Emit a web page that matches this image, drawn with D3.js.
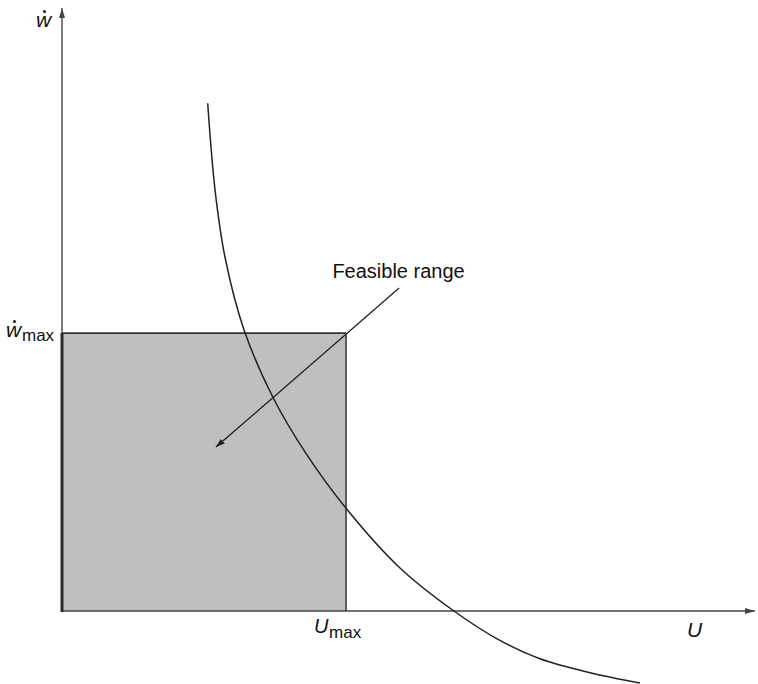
<!DOCTYPE html>
<html>
<head>
<meta charset="utf-8">
<script src="https://cdn.jsdelivr.net/npm/d3@7"></script>
<style>
  html, body { margin: 0; padding: 0; background: #fff; }
  svg { display: block; }
  text { font-family: "Liberation Sans", Arial, Helvetica, sans-serif; fill: #111; }
</style>
</head>
<body>
<svg id="chart" width="758" height="684"></svg>
<script>
// Axis extents (in units of U_max and ẇ_max)
const axisMaxU = 2.44;
const axisMaxW = 2.17;

// Feasible box limits
const limitU = [1.0];   // U_max
const limitW = [1.0];   // ẇ_max

// Constraint curve samples (U, ẇ)
const curveU = [0.513, 0.539, 0.574, 0.641, 0.742, 0.856, 1.0, 1.19, 1.38, 1.532, 1.683, 1.859, 2.035];
const curveW = [1.827, 1.514, 1.273, 1.011, 0.770, 0.572, 0.370, 0.155, 0.0, -0.100, -0.172, -0.222, -0.259];

// Annotation arrow: text anchor point -> pointed location
const noteText = ["Feasible range"];
const noteFromU = [1.187], noteFromW = [1.162];
const noteToU = [0.542], noteToW = [0.590];
const noteLabelU = [1.185], noteLabelW = [1.198];

const svg = d3.select("#chart");

const x = d3.scaleLinear().domain([0, axisMaxU]).range([62, 755]);
const y = d3.scaleLinear().domain([0, axisMaxW]).range([611, 8]);

// Arrowhead markers
const defs = svg.append("defs");
defs.append("marker")
  .attr("id", "axisHead")
  .attr("viewBox", "0 0 10 6")
  .attr("refX", 10).attr("refY", 3)
  .attr("markerWidth", 10).attr("markerHeight", 6)
  .attr("markerUnits", "userSpaceOnUse")
  .attr("orient", "auto")
  .append("path").attr("d", "M0,0 L10,3 L0,6 Z").attr("fill", "#444");
defs.append("marker")
  .attr("id", "noteHead")
  .attr("viewBox", "0 0 9 6")
  .attr("refX", 9).attr("refY", 3)
  .attr("markerWidth", 9).attr("markerHeight", 6)
  .attr("markerUnits", "userSpaceOnUse")
  .attr("orient", "auto")
  .append("path").attr("d", "M0,0 L9,3 L0,6 Z").attr("fill", "#222");

// Feasible region
const box = svg.append("g");
box.append("rect")
  .attr("x", x(0)).attr("y", y(limitW[0]))
  .attr("width", x(limitU[0]) - x(0))
  .attr("height", y(0) - y(limitW[0]))
  .attr("fill", "#bfbfbf");
box.append("line")
  .attr("x1", x(0)).attr("x2", x(limitU[0]))
  .attr("y1", y(limitW[0])).attr("y2", y(limitW[0]))
  .attr("stroke", "#333").attr("stroke-width", 1.6);
box.append("line")
  .attr("x1", x(limitU[0])).attr("x2", x(limitU[0]))
  .attr("y1", y(limitW[0])).attr("y2", y(0))
  .attr("stroke", "#5a5a5a").attr("stroke-width", 2);

// Axes
svg.append("line")
  .attr("x1", x(0)).attr("y1", y(0))
  .attr("x2", x(axisMaxU)).attr("y2", y(0))
  .attr("stroke", "#444").attr("stroke-width", 1.6)
  .attr("marker-end", "url(#axisHead)");
svg.append("line")
  .attr("x1", x(0)).attr("y1", y(0))
  .attr("x2", x(0)).attr("y2", y(axisMaxW))
  .attr("stroke", "#444").attr("stroke-width", 1.4)
  .attr("marker-end", "url(#axisHead)");
// heavier left edge of the box along the ẇ axis
svg.append("line")
  .attr("x1", x(0)).attr("y1", y(0) + 1)
  .attr("x2", x(0)).attr("y2", y(limitW[0]))
  .attr("stroke", "#2a2a2a").attr("stroke-width", 3);

// Constraint curve
const pts = curveU.map((u, i) => [u, curveW[i]]);
svg.append("path")
  .datum(pts)
  .attr("fill", "none")
  .attr("stroke", "#222")
  .attr("stroke-width", 1.5)
  .attr("d", d3.line().x(d => x(d[0])).y(d => y(d[1])).curve(d3.curveCatmullRom.alpha(0.5)));

// Annotation
svg.append("line")
  .attr("x1", x(noteFromU[0])).attr("y1", y(noteFromW[0]))
  .attr("x2", x(noteToU[0])).attr("y2", y(noteToW[0]))
  .attr("stroke", "#222").attr("stroke-width", 1.3)
  .attr("marker-end", "url(#noteHead)");
svg.append("text")
  .attr("x", x(noteLabelU[0])).attr("y", y(noteLabelW[0]))
  .attr("text-anchor", "middle")
  .attr("font-size", 20)
  .text(noteText[0]);

// Axis labels
function dotW(g, px, py, size) {
  g.append("text")
    .attr("x", px).attr("y", py)
    .attr("font-size", size).attr("font-style", "italic")
    .text("w");
  g.append("circle")
    .attr("cx", px + 8.5).attr("cy", py - 15.5)
    .attr("r", 1.5).attr("fill", "#111");
}
const labels = svg.append("g");
dotW(labels, 36, 27, 21);
dotW(labels, 6, y(limitW[0]) + 4, 21);
labels.append("text")
  .attr("x", 22).attr("y", y(limitW[0]) + 8)
  .attr("font-size", 17).text("max");

labels.append("text")
  .attr("x", x(limitU[0]) - 32).attr("y", y(0) + 22)
  .attr("font-size", 20).attr("font-style", "italic").text("U");
labels.append("text")
  .attr("x", x(limitU[0]) - 17).attr("y", y(0) + 27)
  .attr("font-size", 17).text("max");

labels.append("text")
  .attr("x", 687).attr("y", y(0) + 26)
  .attr("font-size", 21).attr("font-style", "italic").text("U");
</script>
</body>
</html>
